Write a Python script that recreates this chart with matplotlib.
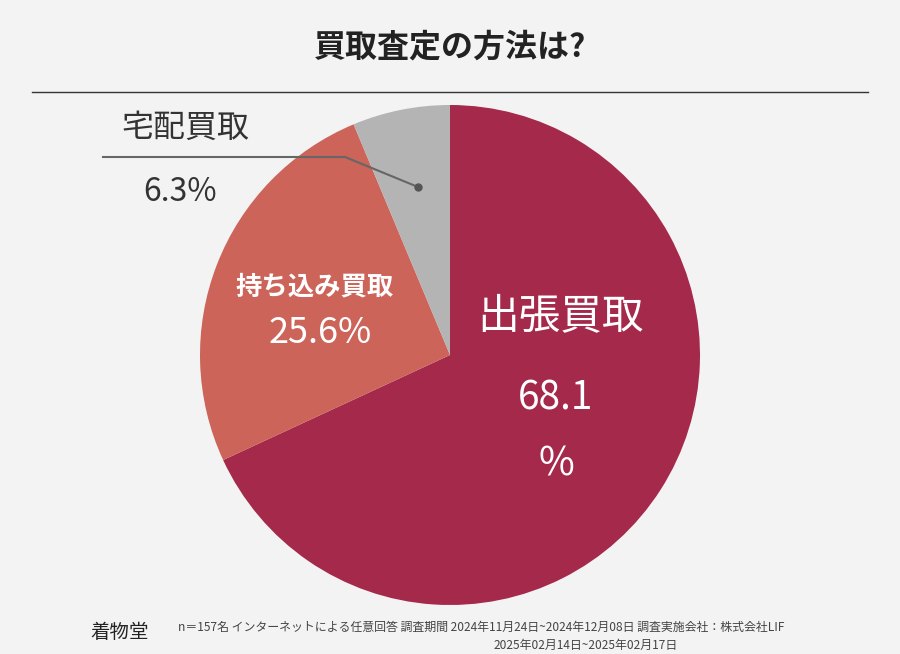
import matplotlib
matplotlib.use("Agg")
import matplotlib.pyplot as plt

categories = ["出張買取", "持ち込み買取", "宅配買取"]
values = [68.1, 25.6, 6.3]
colors = ["#A4294B", "#CC6459", "#B4B4B4"]

plt.rcParams["font.family"] = "Noto Sans CJK JP"
fig = plt.figure(figsize=(9, 6.54), dpi=100)
fig.patch.set_facecolor("#F3F3F3")
H = 654

ax2 = fig.add_axes([0, 0, 1, 1])
ax2.axis("off")
ax2.set_aspect("equal")
ax2.pie(values, colors=colors, startangle=90, counterclock=False,
        center=(450, H - 355), radius=250, wedgeprops=dict(linewidth=0))
ax2.set_xlim(0, 900); ax2.set_ylim(0, 654)

ax = fig.add_axes([0, 0, 1, 1])
ax.set_zorder(5)
ax.patch.set_visible(False)
ax.set_xlim(0, 900); ax.set_ylim(654, 0); ax.axis("off")

ax.text(450, 47, "買取査定の方法は?", ha="center", va="center", fontsize=23, fontweight="bold", color="#222")
ax.plot([32, 868], [92, 92], color="#333", lw=1)

ax.text(560, 318, categories[0], ha="center", va="center", fontsize=30, color="white")
ax.text(556, 398, f"{values[0]}", ha="center", va="center", fontsize=28, color="white")
ax.text(556, 465, "%", ha="center", va="center", fontsize=28, color="white")
ax.text(315, 287, categories[1], ha="center", va="center", fontsize=19, color="white", fontweight="bold")
ax.text(320, 333, f"{values[1]}%", ha="center", va="center", fontsize=26, color="white")
ax.text(185, 128, categories[2], ha="center", va="center", fontsize=23, color="#333")
ax.text(180, 192, f"{values[2]}%", ha="center", va="center", fontsize=23, color="#333")
ax.plot([103, 345, 418], [157, 157, 187], color="#666", lw=1.5)
ax.plot([418], [187], "o", color="#555", ms=5)

ax.text(90, 633, "着物堂", ha="left", va="center", fontsize=14, color="#222")
ax.text(178, 627, "n＝157名 インターネットによる任意回答 調査期間 2024年11月24日~2024年12月08日 調査実施会社：株式会社LIF",
        ha="left", va="center", fontsize=8.6, color="#444")
ax.text(586, 645, "2025年02月14日~2025年02月17日", ha="center", va="center", fontsize=8.6, color="#444")
fig.savefig("out.png", dpi=100, facecolor=fig.get_facecolor())
